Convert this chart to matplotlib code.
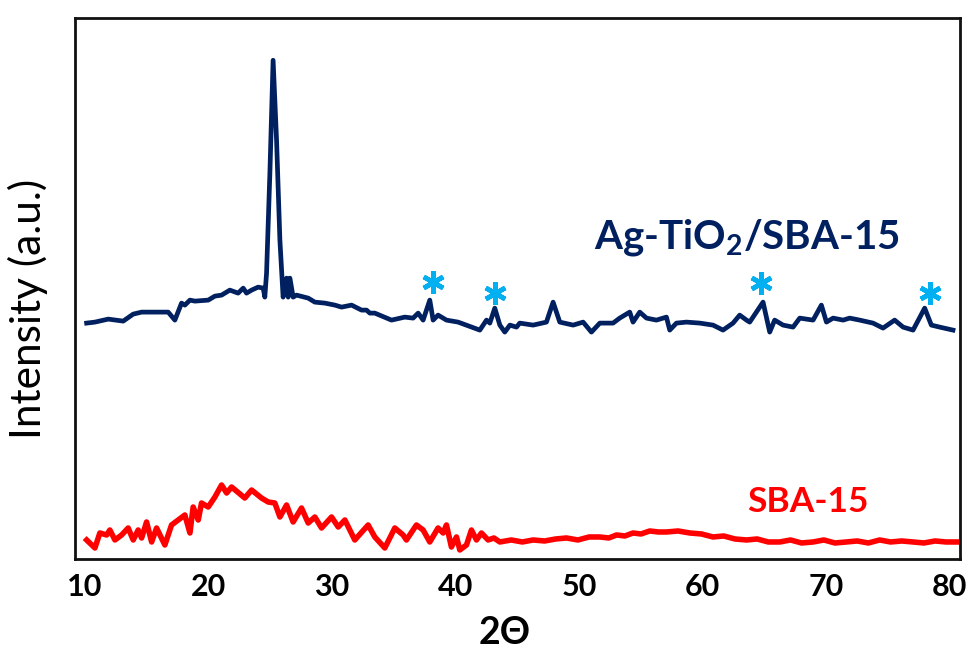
# XRD patterns: Ag-TiO2/SBA-15 vs SBA-15

import numpy as np
import matplotlib
matplotlib.use('Agg')
import matplotlib.pyplot as plt

# =========================
# THEME SETTINGS
# =========================
NAVY = '#002060'
RED = '#FF0000'
STAR_COLOR = '#00B0F0'
plt.rcParams['font.family'] = ['Lato', 'Open Sans', 'DejaVu Sans']
plt.rcParams['mathtext.default'] = 'regular'

# =========================
# DATA
# =========================
ag_2theta = [10.14, 10.81, 11.89, 13.10, 13.91, 14.59, 16.74, 17.28, 17.82, 18.09,
             18.50, 18.90, 19.98, 20.52, 21.06, 21.73, 22.40, 22.81, 23.08, 23.49,
             24.02, 24.43, 24.56, 24.70, 24.97, 25.23, 25.51, 25.78, 26.04, 26.32,
             26.45, 26.59, 26.85, 27.13, 28.07, 28.61, 29.42, 30.23, 30.77, 31.58,
             32.39, 32.79, 33.06, 33.46, 34.81, 35.89, 36.56, 36.97, 37.37, 37.91,
             38.18, 38.58, 39.26, 40.20, 41.96, 42.50, 42.77, 43.17, 43.58, 43.98,
             44.39, 44.93, 45.19, 46.27, 47.35, 47.89, 48.43, 49.51, 50.32, 50.99,
             51.67, 52.74, 53.28, 54.09, 54.36, 54.90, 55.45, 56.25, 57.06, 57.33,
             57.87, 58.68, 59.76, 60.83, 61.64, 62.45, 62.99, 63.54, 63.80, 64.88,
             65.42, 65.82, 66.50, 67.31, 67.85, 68.93, 69.60, 70.01, 70.55, 71.36,
             71.89, 72.70, 73.78, 74.59, 75.53, 76.21, 77.02, 77.96, 78.50, 79.17,
             80.25]
ag_intensity = [236, 237, 240, 238, 245, 247, 247, 239, 256, 254,
                259, 258, 259, 263, 264, 269, 266, 271, 266, 269,
                272, 271, 262, 286, 386, 499, 419, 319, 262, 281,
                262, 281, 262, 264, 261, 257, 256, 254, 252, 254,
                249, 249, 246, 246, 239, 242, 241, 246, 239, 259,
                239, 244, 239, 237, 229, 239, 236, 251, 234, 227,
                234, 232, 236, 234, 237, 257, 237, 234, 237, 227,
                236, 236, 241, 247, 237, 247, 241, 239, 242, 229,
                236, 237, 236, 234, 229, 236, 244, 239, 237, 257,
                227, 239, 234, 232, 241, 239, 254, 237, 241, 239,
                241, 239, 236, 231, 239, 232, 229, 251, 234, 232,
                229]

sba_2theta = [10.14, 10.81, 11.21, 11.76, 12.02, 12.43, 12.97, 13.50, 13.91, 14.31,
              14.59, 14.99, 15.40, 15.80, 16.47, 17.01, 17.55, 18.09, 18.50, 18.76,
              19.17, 19.44, 19.98, 20.52, 21.06, 21.47, 21.87, 22.94, 23.49, 24.29,
              24.83, 25.37, 25.78, 26.32, 26.85, 27.53, 28.07, 28.61, 29.15, 29.96,
              30.50, 31.04, 31.84, 32.92, 33.46, 34.27, 35.08, 35.75, 36.02, 36.83,
              37.37, 37.91, 38.58, 38.99, 39.26, 39.66, 40.07, 40.34, 40.88, 41.28,
              41.69, 42.09, 42.63, 43.10, 43.58, 44.5, 45.4, 46.27, 47.2, 48.1,
              48.97, 49.9, 50.8, 51.67, 52.4, 53.02, 53.7, 54.36, 55.0, 55.71,
              56.4, 57.06, 58.0, 58.95, 59.9, 60.83, 61.7, 62.6, 63.54, 64.4,
              65.3, 66.23, 67.1, 68.0, 68.93, 69.8, 70.7, 71.62, 72.5, 73.4,
              74.32, 75.2, 76.1, 77.02, 77.9, 78.8, 79.7, 80.52]
sba_intensity = [19, 11, 26, 24, 29, 19, 24, 31, 19, 29,
                 21, 37, 17, 31, 14, 34, 39, 44, 26, 52,
                 39, 56, 52, 62, 74, 66, 72, 61, 69, 61,
                 57, 56, 42, 54, 37, 51, 36, 42, 31, 42,
                 32, 39, 19, 34, 22, 11, 31, 24, 19, 34,
                 29, 17, 31, 26, 34, 12, 22, 9, 14, 29,
                 19, 26, 19, 21, 17, 19, 17, 19, 18, 20,
                 21, 19, 22, 22, 21, 24, 23, 26, 25, 28,
                 27, 27, 28, 26, 25, 22, 23, 20, 19, 20,
                 17, 17, 19, 16, 17, 19, 16, 17, 18, 16,
                 19, 17, 18, 17, 16, 18, 17, 17]

# Ag reflections marked with stars
star_2theta = [38.18, 43.17, 64.75, 78.37]
star_intensity = [277, 266, 276, 266]

x_ticks = [10, 20, 30, 40, 50, 60, 70, 80]

# =========================
# PLOT
# =========================
fig = plt.figure(figsize=(9.68, 6.53), dpi=100)
ax = fig.add_axes([0.0775, 0.144, 0.914, 0.828])

ax.plot(sba_2theta, sba_intensity, color=RED, linewidth=4.0, solid_joinstyle='round')
ax.plot(ag_2theta, ag_intensity, color=NAVY, linewidth=3.4, solid_joinstyle='round')

ax.plot(star_2theta, star_intensity, linestyle='none', marker=(6, 2, 0),
        markersize=16, markeredgewidth=3.4, color=STAR_COLOR)

ax.text(63.6, 322, 'Ag-TiO$_2$/SBA-15', ha='center', va='center',
        fontsize=29, fontweight='bold', color=NAVY)
ax.text(68.5, 57, 'SBA-15', ha='center', va='center',
        fontsize=25.5, fontweight='bold', color=RED)

ax.set_xlim(9.2, 80.8)
ax.set_ylim(0, 541)
ax.set_xticks(x_ticks)
ax.set_yticks([])
ax.tick_params(axis='x', length=0, pad=10, labelsize=22)
for lbl in ax.get_xticklabels():
    lbl.set_fontweight('bold')

for side in ['top', 'bottom', 'left', 'right']:
    ax.spines[side].set_linewidth(2.0)
    ax.spines[side].set_color('#111111')

ax.set_xlabel('2Θ', fontsize=27, fontweight='bold')
ax.xaxis.set_label_coords(0.486, -0.106)
ax.set_ylabel('Intensity (a.u.)', fontsize=30.5)
ax.yaxis.set_label_coords(-0.031, 0.462)

plt.savefig('out.png', dpi=100)
